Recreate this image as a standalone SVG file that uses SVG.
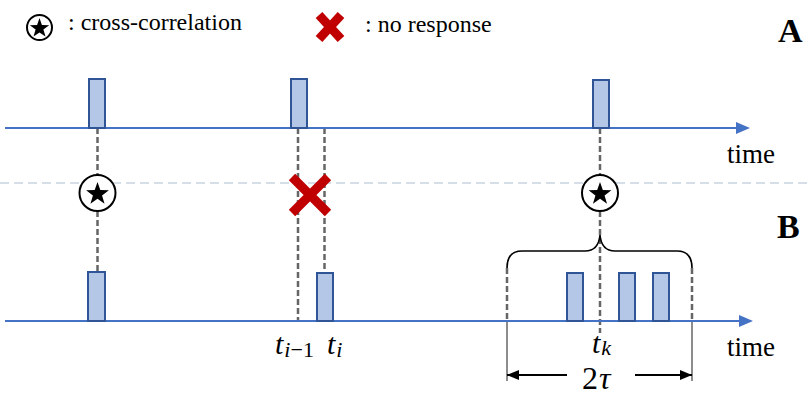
<svg xmlns="http://www.w3.org/2000/svg" width="811" height="396" viewBox="0 0 811 396">
<defs>
<style>
.axis{stroke:#4472C4;stroke-width:2;fill:none}
.ah{fill:#4472C4}
.pulse{fill:#B4C7E7;stroke:#2F5597;stroke-width:2}
.dash{stroke:#666;stroke-width:2.5;stroke-dasharray:6 3;fill:none}
.sep{stroke:#C9D3E0;stroke-width:1.5;stroke-dasharray:9 5;fill:none}
.ring{fill:#fff;stroke:#000;stroke-width:2}
.xmark{stroke:#C00000;stroke-width:9;fill:none}
.txt{font-family:"Liberation Serif","Times New Roman",serif;fill:#000}
.math{font-family:"Liberation Serif","Times New Roman",serif;font-style:italic;fill:#000}
.lbl{font-family:"Liberation Serif","Times New Roman",serif;font-weight:bold;font-size:34px;fill:#000}
.gray{stroke:#666;stroke-width:1.5}
</style>
<path id="star" d="M0,-12 L2.82,-3.88 L11.41,-3.71 L4.57,1.48 L7.05,9.71 L0,4.8 L-7.05,9.71 L-4.57,1.48 L-11.41,-3.71 L-2.82,-3.88 Z" fill="#000"/>
<marker id="bk" viewBox="0 0 12 10" refX="12" refY="5" markerWidth="12" markerHeight="10" markerUnits="userSpaceOnUse" orient="auto-start-reverse"><path d="M0,0 L12,5 L0,10 Z" fill="#000"/></marker>
</defs>
<rect width="811" height="396" fill="#fff"/>

<g id="legend">
<circle cx="39.5" cy="27.5" r="12.5" class="ring" stroke-width="2.6"/>
<use href="#star" transform="translate(39.5,28.3) scale(0.85)"/>
<text x="68" y="30" class="txt" font-size="24">: cross-correlation</text>
<path class="xmark" d="M319,15 L341,39 M341,15 L319,39" stroke-width="8"/>
<text x="365" y="32" class="txt" font-size="24">: no response</text>
</g>

<g id="labels">
<text x="778" y="42" class="lbl">A</text>
<text x="777" y="238" class="lbl">B</text>
</g>

<line id="separator" x1="0" y1="183" x2="811" y2="183" class="sep"/>

<g id="connectors">
<line x1="97.5" y1="128" x2="97.5" y2="175" class="dash"/>
<line x1="97.5" y1="211" x2="97.5" y2="272" class="dash"/>
<line x1="298" y1="128" x2="298" y2="321" class="dash"/>
<line x1="324.5" y1="128" x2="324.5" y2="273" class="dash"/>
<line x1="600" y1="128" x2="600" y2="175" class="dash"/>
<line x1="600" y1="211" x2="600" y2="333" class="dash"/>
<line x1="507" y1="268" x2="507" y2="321" class="dash"/>
<line x1="692" y1="268" x2="692" y2="321" class="dash"/>
<line x1="507" y1="321" x2="507" y2="381" class="gray"/>
<line x1="692" y1="321" x2="692" y2="381" class="gray"/>
<path d="M507,268 C507,257 512,251 522,251 L585,251 C594,251 599,246 600,235 C601,246 606,251 615,251 L677,251 C687,251 692,257 692,268" fill="none" stroke="#000" stroke-width="1.6"/>
<line x1="567" y1="375" x2="507" y2="375" stroke="#000" stroke-width="2" marker-end="url(#bk)"/>
<line x1="635" y1="375" x2="692" y2="375" stroke="#000" stroke-width="2" marker-end="url(#bk)"/>
</g>

<g id="axis-top">
<line x1="5" y1="128" x2="738" y2="128" class="axis"/>
<path d="M736,122 L750,128 L736,134 Z" class="ah"/>
<text x="727" y="163" class="txt" font-size="27">time</text>
</g>
<g id="axis-bottom">
<line x1="5" y1="321" x2="741" y2="321" class="axis"/>
<path d="M739,315 L753,321 L739,327 Z" class="ah"/>
<text x="727" y="356" class="txt" font-size="27">time</text>
</g>

<g id="pulses-top">
<rect x="89" y="79" width="16" height="49" class="pulse"/>
<rect x="291" y="79" width="16" height="49" class="pulse"/>
<rect x="593" y="80" width="16" height="48" class="pulse"/>
</g>
<g id="pulses-bottom">
<rect x="88" y="272" width="17" height="49" class="pulse"/>
<rect x="317" y="273" width="16" height="48" class="pulse"/>
<rect x="567" y="273" width="16" height="48" class="pulse"/>
<rect x="619" y="273" width="16" height="48" class="pulse"/>
<rect x="653" y="273" width="16" height="48" class="pulse"/>
</g>

<g id="xcorr-1">
<circle cx="97.5" cy="193" r="18" class="ring"/>
<use href="#star" transform="translate(97.5,194)"/>
</g>
<g id="noresp">
<path class="xmark" d="M292,177 L328,213 M328,177 L292,213"/>
</g>
<g id="xcorr-k">
<circle cx="600" cy="193" r="18" class="ring"/>
<use href="#star" transform="translate(600,194)"/>
</g>

<g id="time-labels">
<text x="275" y="354" class="math" font-size="30">t<tspan font-size="22" dy="3" dx="1">i</tspan><tspan font-size="22" font-style="normal">−1</tspan></text>
<text x="327" y="354" class="math" font-size="30">t<tspan font-size="22" dy="3" dx="1">i</tspan></text>
<text x="592" y="353" class="math" font-size="30">t<tspan font-size="22" dy="2" dx="1">k</tspan></text>
<text x="582" y="389" class="txt" font-size="32">2<tspan font-style="italic" dx="1">τ</tspan></text>
</g>
</svg>
